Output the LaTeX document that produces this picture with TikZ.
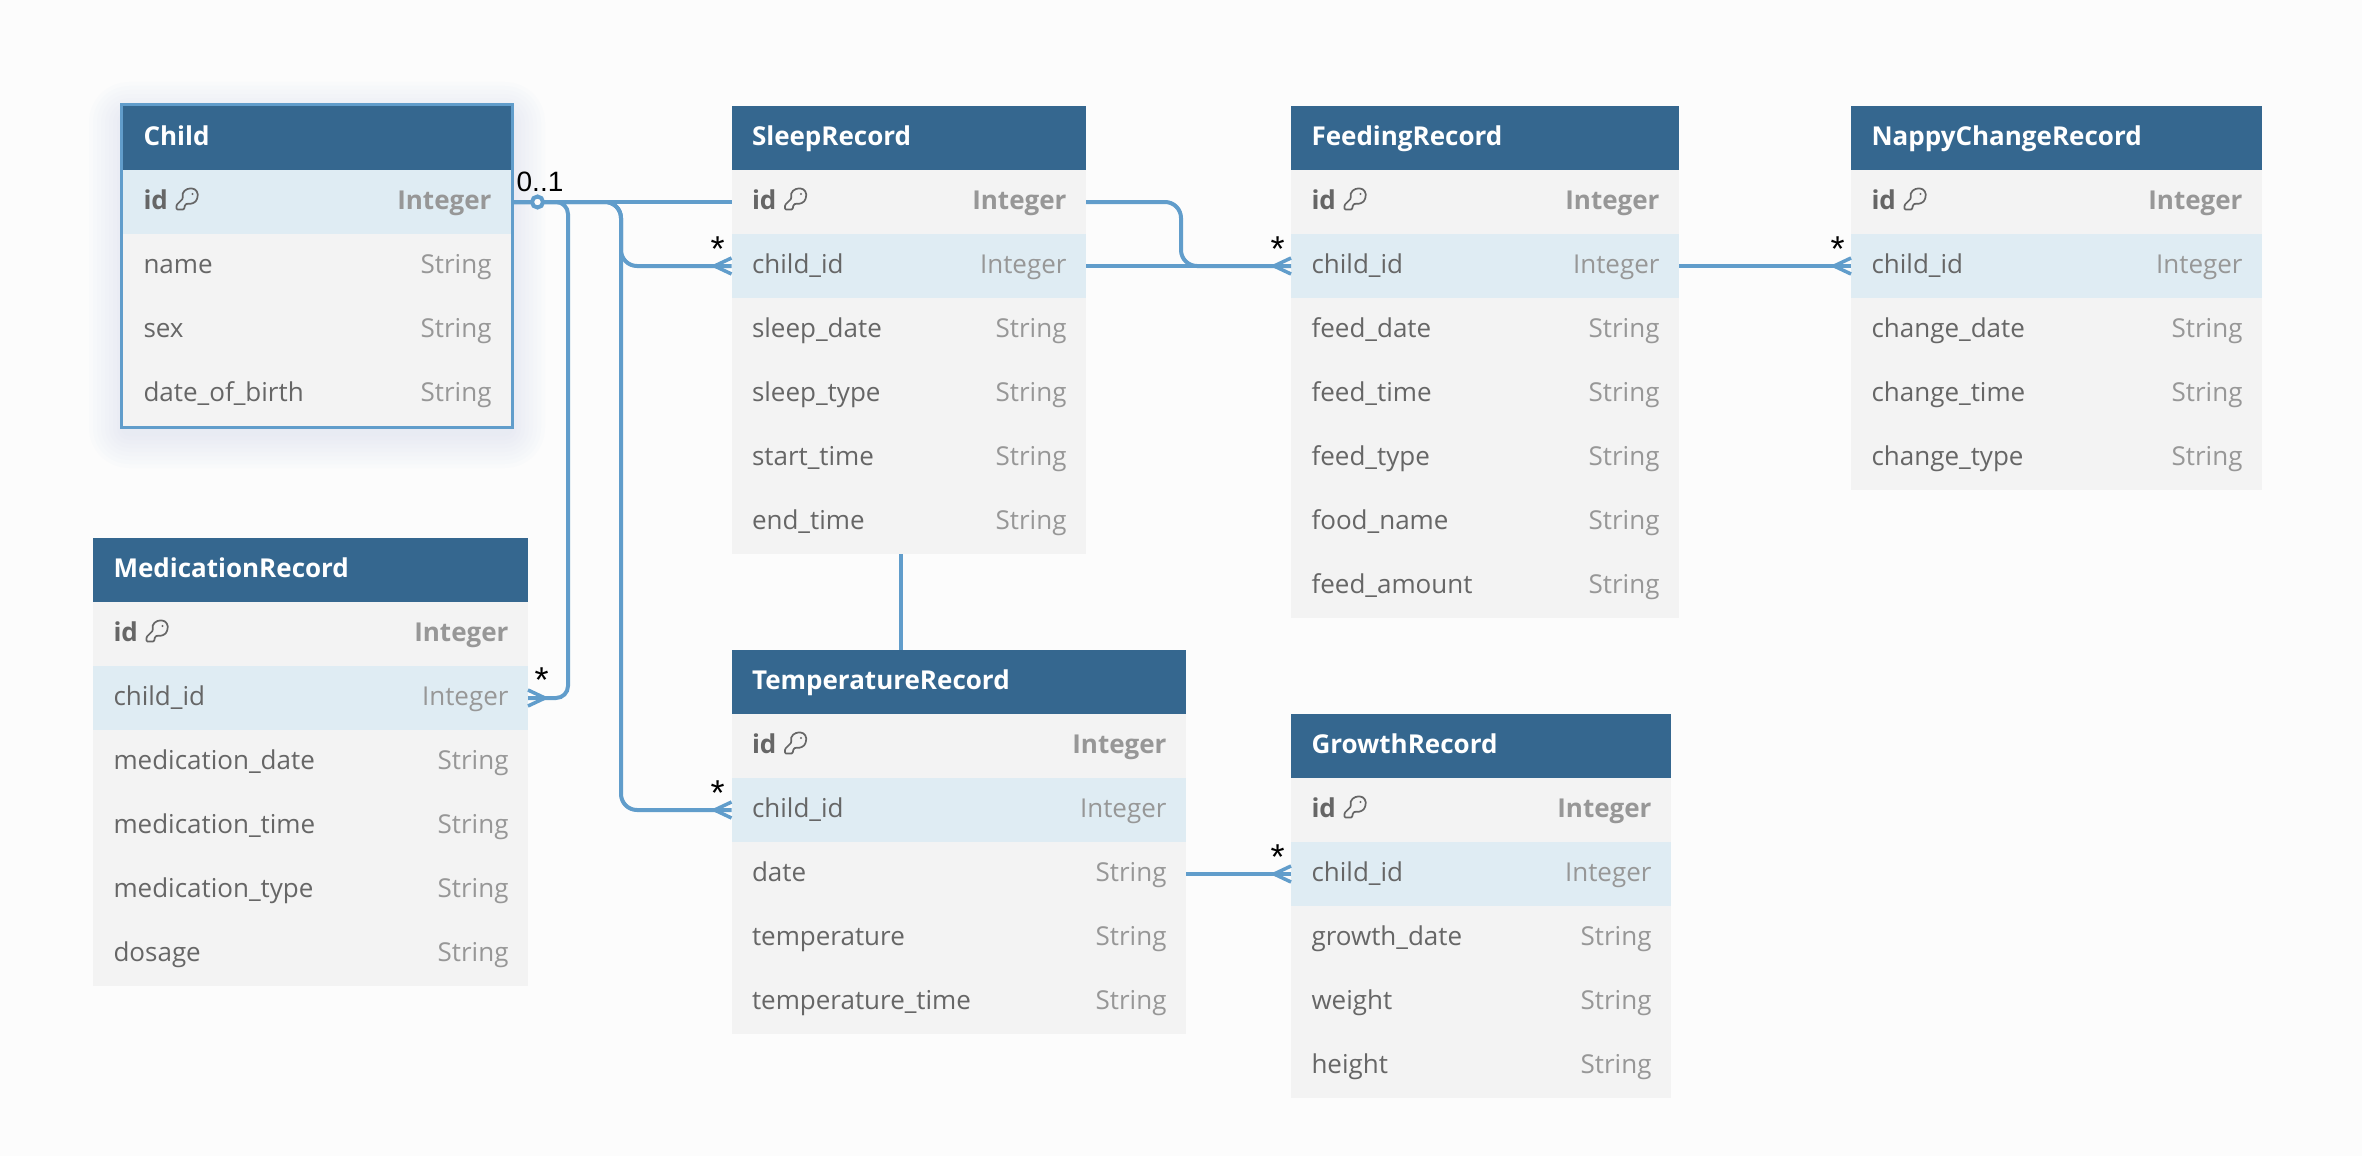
\documentclass[tikz,border=0pt]{standalone}
\usepackage{fontspec}
\setmainfont{Open Sans}
\newfontfamily\labelfont{Liberation Sans}
\usetikzlibrary{calc}
\definecolor{pagebg}{HTML}{FCFCFC}
\definecolor{headbg}{HTML}{35678F}
\definecolor{rowbg}{HTML}{F3F3F3}
\definecolor{rowhi}{HTML}{DFECF3}
\definecolor{txtname}{HTML}{666666}
\definecolor{txttype}{HTML}{979797}
\definecolor{relcol}{HTML}{619DCB}
\definecolor{glowcol}{HTML}{B9CDE6}
\newcommand\bodyfont{\fontsize{26}{30}\selectfont}
\tikzset{
  every node/.style={inner sep=0pt, outer sep=0pt},
  headbox/.style={fill=headbg, minimum height=64pt, anchor=center},
  rowbox/.style={minimum height=64pt, anchor=center},
  titletext/.style={anchor=base west, text=white, font=\bodyfont\bfseries},
  nametext/.style={anchor=base west, text=txtname, font=\bodyfont},
  typetext/.style={anchor=base east, text=txttype, font=\bodyfont},
  idname/.style={anchor=base west, text=txtname, font=\bodyfont\bfseries},
  idtype/.style={anchor=base east, text=txttype, font=\bodyfont\bfseries},
  rel/.style={draw=relcol, line width=4pt},
  crowfoot/.style={draw=relcol, line width=3.5pt, line join=miter},
  keyline/.style={draw=txtname, line width=1.7pt, line join=round},
  cardlabel/.style={anchor=base, text=black, font=\labelfont\fontsize{28}{30}\selectfont},
  starlabel/.style={anchor=base, text=black, font=\labelfont\fontsize{36}{38}\selectfont},
}
% name, x, y, width, title, highlighted row, rows
\newcommand\erdtable[7]{%
  \pgfmathsetmacro\tx{#2+#4/2}
  \pgfmathsetmacro\ty{#3+32}
  \node[headbox, minimum width=#4pt] (#1-head) at (\tx,\ty) {};
  \node[titletext] (#1-title) at ($(#1-head.west)+(20.5,7)$) {#5};
  \foreach \rname/\rtype [count=\ri] in {#7} {
    \pgfmathsetmacro\ry{#3+64+(\ri-0.5)*64}
    \ifnum\ri=#6 \def\rf{rowhi}\else\def\rf{rowbg}\fi
    \node[rowbox, fill=\rf, minimum width=#4pt] (#1-\ri) at (\tx,\ry) {};
    \ifnum\ri=1
      \node[idname] (#1-\ri-n) at ($(#1-\ri.west)+(20.5,7)$) {\rname};
      \node[idtype] (#1-\ri-t) at ($(#1-\ri.east)+(-19.5,7)$) {\rtype};
      \begin{scope}[shift={($(#1-\ri.west)+(67,-5.5)$)}]
        \draw[keyline, rounded corners=1pt] (-7,2) .. controls (-9,-5) and (-3,-8) .. (1,-8)
          .. controls (6,-8) and (9,-3) .. (7,2) .. controls (6,6) and (1,8) .. (-3,7)
          -- (-5,8.5) -- (-6,13) -- (-13.5,13) -- (-13.5,8.5) -- cycle;
        \fill[txtname] (2.5,-2.5) circle (1.2pt);
      \end{scope}
    \else
      \node[nametext] (#1-\ri-n) at ($(#1-\ri.west)+(20.5,7)$) {\rname};
      \node[typetext] (#1-\ri-t) at ($(#1-\ri.east)+(-19.5,7)$) {\rtype};
    \fi
  }
}
% crow's foot at a point; #2 = +1 opens to the right (entity on the right), -1 opens to the left
\newcommand\crow[2]{%
  \draw[crowfoot] ($(#1)+(0,-8)$) -- ($(#1)+(-17*#2,0)$) -- ($(#1)+(0,8)$);
}
\begin{document}
\begin{tikzpicture}[x=1pt,y=-1pt]
  \useasboundingbox (0,0) rectangle (2362,1156);
  \fill[pagebg] (0,0) rectangle (2362,1156);

  % glow round the selected table
  \foreach \g in {2,6,...,34} {
    \pgfmathsetmacro\gr{\g+6}
    \fill[glowcol, opacity=0.032, rounded corners=\gr pt]
      (123-\g,116-\g) rectangle (511+\g,434+\g);
  }

  \erdtable{Child}{123}{106}{388}{Child}{1}{id/Integer,name/String,sex/String,date\_of\_birth/String}
  \erdtable{Sleep}{731.5}{106}{354.5}{SleepRecord}{2}{id/Integer,child\_id/Integer,sleep\_date/String,sleep\_type/String,start\_time/String,end\_time/String}
  \erdtable{Feed}{1291}{106}{388}{FeedingRecord}{2}{id/Integer,child\_id/Integer,feed\_date/String,feed\_time/String,feed\_type/String,food\_name/String,feed\_amount/String}
  \erdtable{Nappy}{1851}{106}{411}{NappyChangeRecord}{2}{id/Integer,child\_id/Integer,change\_date/String,change\_time/String,change\_type/String}
  \erdtable{Med}{93}{538}{435}{MedicationRecord}{2}{id/Integer,child\_id/Integer,medication\_date/String,medication\_time/String,medication\_type/String,dosage/String}
  \erdtable{Temp}{731.5}{650}{454.5}{TemperatureRecord}{2}{id/Integer,child\_id/Integer,date/String,temperature/String,temperature\_time/String}
  \erdtable{Growth}{1291}{714}{380}{GrowthRecord}{2}{id/Integer,child\_id/Integer,growth\_date/String,weight/String,height/String}

  % selection border
  \draw[draw=relcol, line width=3pt]
    ($(Child-head.north west)+(-1.5,-1.5)$) rectangle ($(Child-4.south east)+(1.5,1.5)$);

  % connectors
  \coordinate (busMed) at (568,202);
  \coordinate (busKids) at (621,202);
  \coordinate (busFeed) at (1181,202);
  \coordinate (sleepTap) at ($(Sleep-6.south)+(-8,0)$);

  \draw[rel] (Child-1.east) -- (Sleep-1.west);
  \draw[rel, rounded corners=12pt] (Child-1.east) -- (busMed) -- (busMed |- Med-2.east) -- (Med-2.east);
  \draw[rel, rounded corners=16pt] (Child-1.east) -- (busKids) -- (busKids |- Sleep-2.west) -- (Sleep-2.west);
  \draw[rel, rounded corners=16pt] (Child-1.east) -- (busKids) -- (busKids |- Temp-2.west) -- (Temp-2.west);
  \draw[rel] (Sleep-2.east) -- (Feed-2.west);
  \draw[rel, rounded corners=16pt] (Sleep-1.east) -- (busFeed) -- (busFeed |- Feed-2.west) -- (Feed-2.west);
  \draw[rel] (Feed-2.east) -- (Nappy-2.west);
  \draw[rel] (Temp-3.east) -- (Growth-2.west);
  \draw[rel] (sleepTap) -- (sleepTap |- Temp-head.north);

  \crow{Sleep-2.west}{1}
  \crow{Temp-2.west}{1}
  \crow{Feed-2.west}{1}
  \crow{Nappy-2.west}{1}
  \crow{Growth-2.west}{1}
  \crow{Med-2.east}{-1}

  \node[circle, draw=relcol, fill=pagebg, line width=4pt, minimum size=11pt] (zeroOne) at (537.5,202) {};

  % cardinalities
  \node[cardlabel] (cardChild) at (540,191) {0..1};
  \node[starlabel] (cardSleep) at (717.5,261) {*};
  \node[starlabel] (cardFeed) at (1277.5,261) {*};
  \node[starlabel] (cardNappy) at (1837.5,261) {*};
  \node[starlabel] (cardMed) at (541.5,692) {*};
  \node[starlabel] (cardTemp) at (717.5,805) {*};
  \node[starlabel] (cardGrowth) at (1277.5,869) {*};
\end{tikzpicture}
\end{document}
